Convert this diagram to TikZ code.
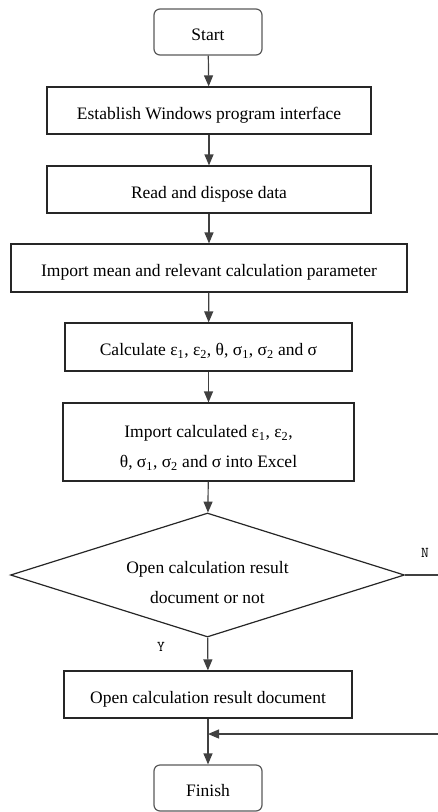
\documentclass[tikz,border=0pt]{standalone}
\usepackage{fontspec}
\setmainfont{Liberation Serif}
\usetikzlibrary{arrows.meta,positioning,shapes.geometric}
\newcommand{\sub}[1]{\textsubscript{#1}}

\begin{document}
\begin{tikzpicture}[x=1pt, y=-1pt,
  every node/.style={font=\fontsize{17.5}{30}\selectfont},
  terminal/.style={draw=black!65, line width=1.2pt, rounded corners=6pt,
                   minimum width=108pt, minimum height=46pt, inner sep=0pt,
                   text height=17pt, text depth=0pt},
  process/.style={draw=black!85, line width=1.2pt, align=center, inner sep=0pt,
                  text height=17pt, text depth=0pt},
  decision/.style={diamond, draw=black!85, line width=1.2pt, aspect=3.2,
                   align=center, inner sep=0pt, minimum width=394pt, minimum height=124pt,
                   text height=56pt, text depth=0pt},
  tag/.style={font=\fontsize{15}{16}\ttfamily},
  arrow/.style={-{Triangle[length=11pt, width=9pt]}, line width=1.2pt, draw=black!75}
]
\useasboundingbox (0,0) rectangle (438,812);

\node[terminal] (start) at (208,32) {Start};
\node[process, minimum width=324pt, minimum height=47pt] (gui) at (209,110.5) {Establish Windows program interface};
\node[process, minimum width=324pt, minimum height=47pt] (read) at (209,189.5) {Read and dispose data};
\node[process, minimum width=396pt, minimum height=48pt] (param) at (209,268) {Import mean and relevant calculation parameter};
\node[process, minimum width=287pt, minimum height=48pt] (calc) at (208.5,347) {Calculate ε\sub{1}, ε\sub{2}, θ, σ\sub{1}, σ\sub{2} and σ};
\node[process, minimum width=291pt, minimum height=78pt, text height=51pt] (excel) at (208.5,442) {Import calculated ε\sub{1}, ε\sub{2},\\θ, σ\sub{1}, σ\sub{2} and σ into Excel};
\node[decision] (ask) at (207.5,575) {Open calculation result\\document or not};
\node[process, minimum width=288pt, minimum height=47pt] (open) at (208,694.5) {Open calculation result document};
\node[terminal] (finish) at (208,788) {Finish};
\coordinate (join) at (208,734);

\draw[arrow] (start) -- (gui);
\draw[arrow] (gui) -- (read);
\draw[arrow] (read) -- (param);
\draw[arrow] (param) -- (calc);
\draw[arrow] (calc) -- (excel);
\draw[arrow] (excel) -- (ask);
\draw[arrow] (ask) -- (open);
\draw[arrow] (open) -- (finish);
\draw[arrow] (ask.east) -- ++(45,0) |- (join);

\node[tag] (yes) at (161,647) {Y};
\node[tag] (no) at (425,553) {N};
\end{tikzpicture}
\end{document}
